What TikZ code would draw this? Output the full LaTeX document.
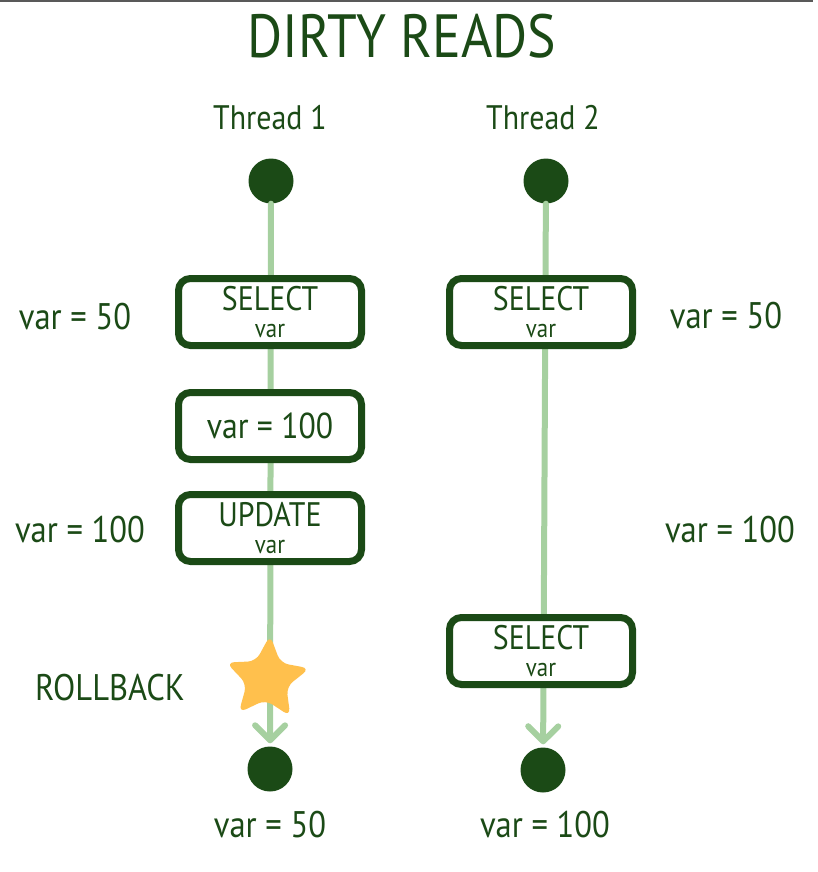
\documentclass[tikz,border=0pt]{standalone}
\usepackage{fontspec}
\setmainfont{PT Sans}[FakeStretch=0.88]
\usetikzlibrary{shapes.geometric,arrows.meta}

\definecolor{vertfonce}{HTML}{1B4A16}
\definecolor{vertclair}{HTML}{A6D0A0}
\definecolor{jaune}{HTML}{FFC04D}

\newcommand{\optxt}[1]{{\fontsize{34}{30}\selectfont #1}\\[1pt]{\fontsize{26}{26}\selectfont var}}

\tikzset{
  opbox/.style={draw=vertfonce, line width=7pt, rounded corners=12pt, fill=white,
    minimum width=183pt, minimum height=67pt, align=center, inner sep=0pt,
    text=vertfonce, font=\fontsize{26}{26}\selectfont},
  tdot/.style={circle, fill=vertfonce, minimum size=45pt, inner sep=0pt},
  tline/.style={draw=vertclair, line width=6pt, line cap=round,
    -{Straight Barb[length=15pt,width=30pt,round]}, shorten >=3pt},
  vlabel/.style={text=vertfonce, font=\fontsize{37}{40}\selectfont},
}

\begin{document}
\begin{tikzpicture}[x=1pt,y=-1pt]
\useasboundingbox (0,0) rectangle (817,872);
\draw[gray!70!black, line width=2pt] (0,1) -- (813,1);

\node[text=vertfonce, font=\fontsize{61}{62}\selectfont] (titre) at (402,36) {DIRTY READS};
\node[text=vertfonce, font=\fontsize{34}{40}\selectfont] (th1) at (270,118) {Thread 1};
\node[text=vertfonce, font=\fontsize{34}{40}\selectfont] (th2) at (543,118) {Thread 2};

% debut et fin des threads
\node[tdot] (s1) at (271,181) {};
\node[tdot] (s2) at (546,181) {};
\node[tdot] (e1) at (270,769) {};
\node[tdot] (e2) at (543,770) {};

\draw[tline] (s1) -- (e1);
\draw[tline] (s2) -- (e2);

% thread 1
\node[opbox] (sel1) at (270,312) {\optxt{SELECT}};
\node[opbox] (set1) at (270,426) {\fontsize{36}{36}\selectfont var = 100};
\node[opbox] (upd1) at (270,528) {\optxt{UPDATE}};
\node[star, star points=5, star point ratio=2.1, minimum size=88pt, inner sep=0pt,
  fill=jaune, rounded corners=8pt, rotate=-4] (rb) at (267,679) {};

% thread 2
\node[opbox] (sel2) at (541,312) {\optxt{SELECT}};
\node[opbox] (sel3) at (541,651) {\optxt{SELECT}};

% valeurs lues
\node[vlabel] (v1) at (75,317) {var = 50};
\node[vlabel] (v2) at (80,530) {var = 100};
\node[vlabel] (v3) at (726,316) {var = 50};
\node[vlabel] (v4) at (730,530) {var = 100};
\node[vlabel] (rbl) at (110,688) {ROLLBACK};
\node[vlabel] (f1) at (270,825) {var = 50};
\node[vlabel] (f2) at (545,825) {var = 100};
\end{tikzpicture}
\end{document}
